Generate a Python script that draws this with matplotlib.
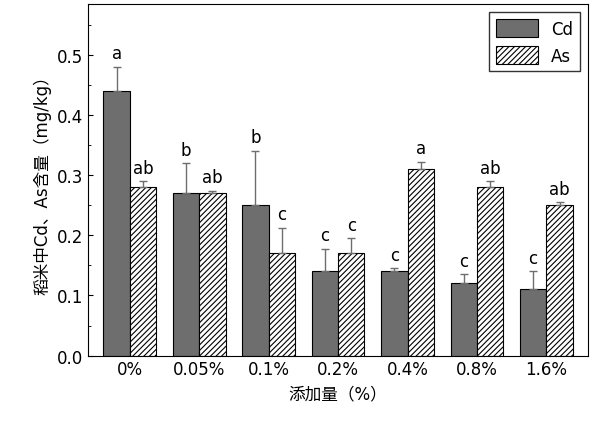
import matplotlib
matplotlib.use("Agg")
import matplotlib.pyplot as plt
import numpy as np

plt.rcParams['font.family'] = ['DejaVu Sans', 'Noto Sans CJK SC', 'Noto Sans CJK JP', 'Noto Sans CJK TC', 'Noto Sans CJK KR']
plt.rcParams['hatch.linewidth'] = 0.8

categories = ["0%", "0.05%", "0.1%", "0.2%", "0.4%", "0.8%", "1.6%"]
cd = [0.44, 0.27, 0.25, 0.14, 0.14, 0.12, 0.11]
cd_err = [0.04, 0.05, 0.09, 0.037, 0.005, 0.015, 0.03]
cd_lbl = ["a", "b", "b", "c", "c", "c", "c"]
as_ = [0.28, 0.27, 0.17, 0.17, 0.31, 0.28, 0.25]
as_err = [0.01, 0.004, 0.042, 0.025, 0.013, 0.01, 0.005]
as_lbl = ["ab", "ab", "c", "c", "a", "ab", "ab"]

fig = plt.figure(figsize=(6, 4.27), dpi=100)
ax = fig.add_axes([0.147, 0.165, 0.833, 0.823])
x = np.arange(len(categories))
w = 0.38
ax.bar(x - w/2, cd, w, color="#6e6e6e", edgecolor="black", linewidth=0.8, label="Cd",
       yerr=[np.zeros(7), cd_err], error_kw=dict(ecolor="#6e6e6e", capsize=3, elinewidth=1))
ax.bar(x + w/2, as_, w, color="white", edgecolor="black", hatch="//////", linewidth=0.8, label="As",
       yerr=[np.zeros(7), as_err], error_kw=dict(ecolor="#6e6e6e", capsize=3, elinewidth=1))
for i in range(7):
    ax.text(x[i] - w/2, cd[i] + cd_err[i] + 0.008, cd_lbl[i], ha="center", va="bottom", fontsize=12)
    ax.text(x[i] + w/2, as_[i] + as_err[i] + 0.008, as_lbl[i], ha="center", va="bottom", fontsize=12)
ax.set_xlim(-0.6, 6.6)
ax.set_ylim(0, 0.585)
ax.set_yticks(np.arange(0, 0.51, 0.1))
ax.set_yticklabels([f"{v:.1f}" for v in np.arange(0, 0.51, 0.1)], fontsize=12)
ax.set_xticks(x)
ax.set_xticklabels(categories, fontsize=12)
ax.tick_params(direction="in", which="both")
ax.yaxis.set_minor_locator(matplotlib.ticker.MultipleLocator(0.05))
ax.set_xlabel("添加量（%）", fontsize=12)
ax.set_ylabel("稻米中Cd、As含量（mg/kg）", fontsize=12)
ax.legend(loc="upper right", fontsize=12, frameon=True, fancybox=False, edgecolor="black",
          handlelength=2.5, handleheight=1.3)
fig.savefig("out.png", dpi=100)
